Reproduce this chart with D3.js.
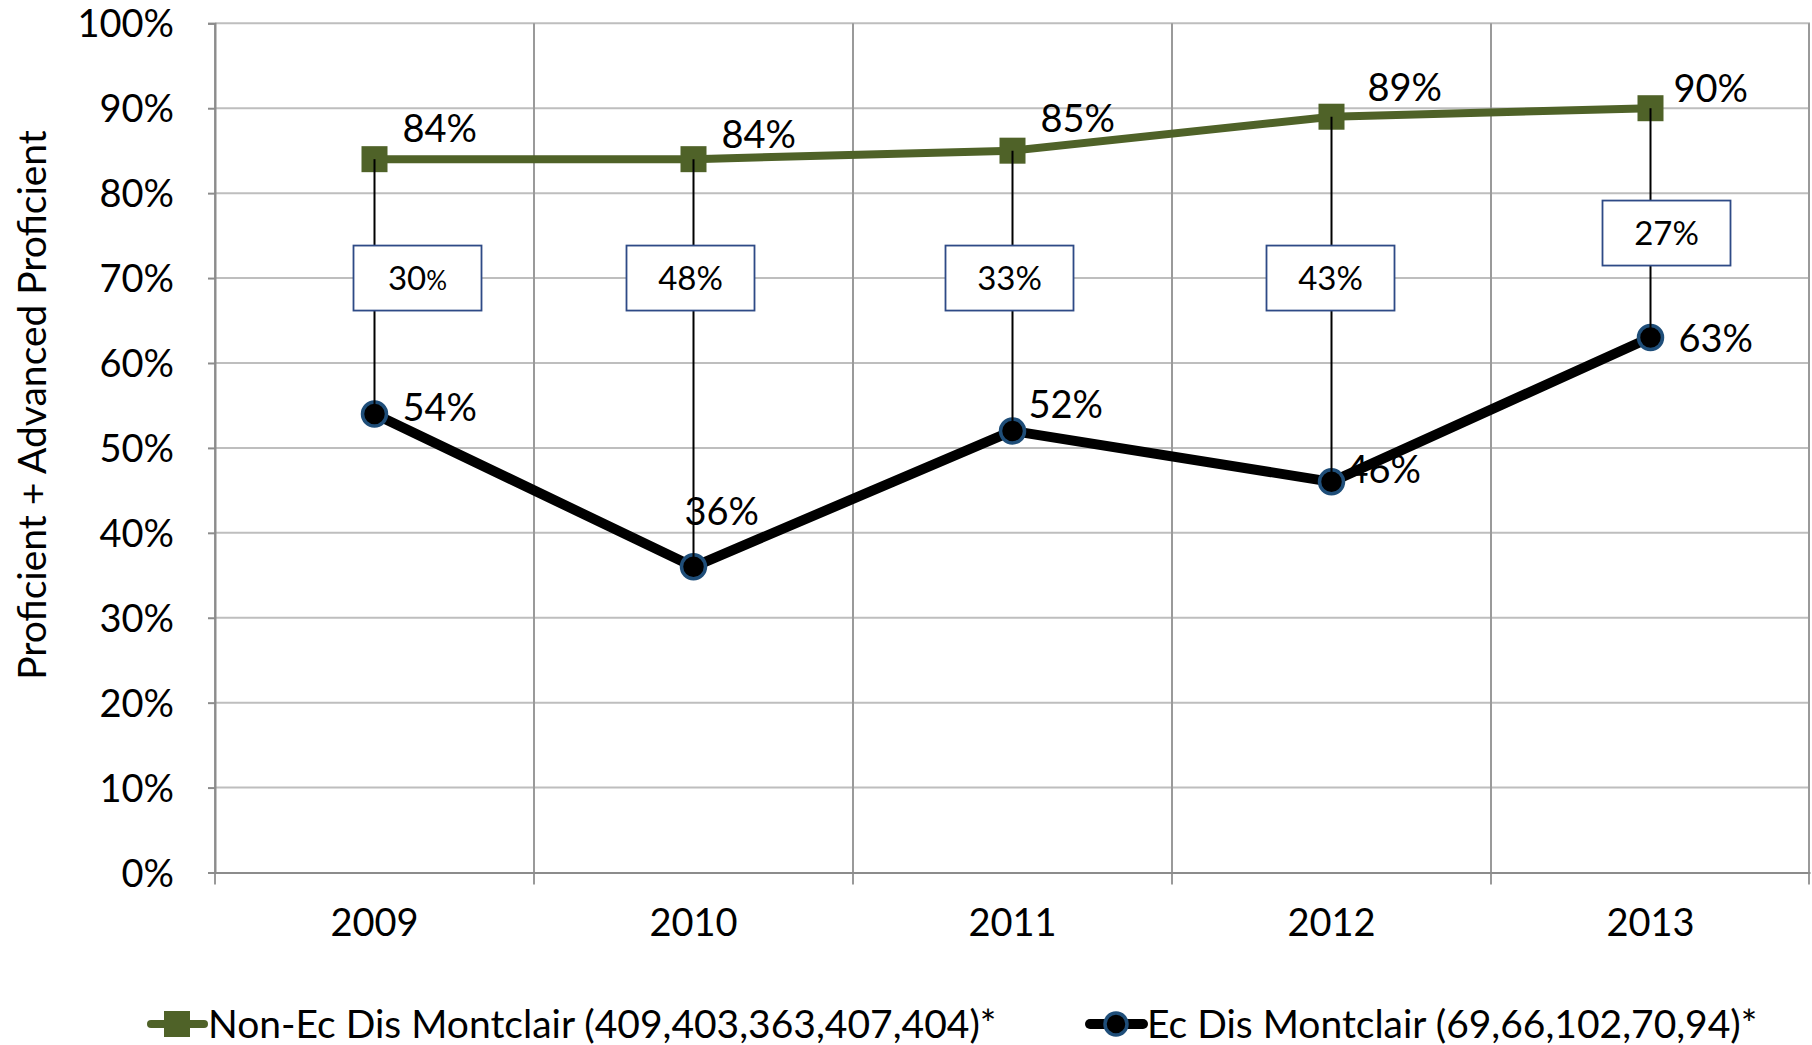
<!DOCTYPE html>
<html>
<head>
<meta charset="utf-8">
<script src="https://cdn.jsdelivr.net/npm/d3@7"></script>
<style>
  body { margin: 0; background: #fff; }
  svg { display: block; }
  text { font-family: Lato, "Open Sans", sans-serif; fill: #000; }
</style>
</head>
<body>
<script>
// ---------- data ----------
const years = ["2009", "2010", "2011", "2012", "2013"];
const nonEcValues = [84, 84, 85, 89, 90];
const ecValues = [54, 36, 52, 46, 63];
const gapValues = [30, 48, 33, 43, 27];
const yTickValues = [0, 10, 20, 30, 40, 50, 60, 70, 80, 90, 100];
const seriesNames = ["Non-Ec Dis Montclair (409,403,363,407,404)*", "Ec Dis Montclair (69,66,102,70,94)*"];
const yAxisTitle = "Proficient + Advanced Proficient";

// ---------- layout (not data) ----------
const W = 1812, H = 1045;
const plot = { left: 215, right: 1810, top: 23.3, bottom: 872.5 };
const nonEcLabelDx = [28, 28, 28, 36, 23];
const nonEcLabelDy = [-31, -25, -32, -29, -20];
const ecLabelDx = [28, -9, 16, 15, 28];
const ecLabelDy = [-7, -55, -27, -13, 1];
const boxCenterValue = [70, 70, 70, 70, 75.3];
const boxDx = [43, -3, -3, -1, 16];
const boxW = 128, boxH = 65;

const green = "#4F6228";
const circleStroke = "#1F4E79";
const boxStroke = "#2E4A86";
const tickSize = 38;
const labelSize = 38;

const svg = d3.select("body").append("svg").attr("width", W).attr("height", H);

const x = d3.scaleBand().domain(years).range([plot.left, plot.right]);
const y = d3.scaleLinear().domain([0, 100]).range([plot.bottom, plot.top]);
const cx = d => x(d) + x.bandwidth() / 2;

// horizontal gridlines
svg.append("g").selectAll("line").data(yTickValues.filter(v => v > 0)).join("line")
  .attr("x1", plot.left).attr("x2", plot.right)
  .attr("y1", d => y(d)).attr("y2", d => y(d))
  .attr("stroke", "#BEBEBE").attr("stroke-width", 2);

// vertical gridlines at band edges
const edges = years.map(d => x(d)).concat([plot.right - 1]);
svg.append("g").selectAll("line").data(edges).join("line")
  .attr("x1", d => d).attr("x2", d => d)
  .attr("y1", plot.top).attr("y2", plot.bottom + 12)
  .attr("stroke", "#9A9A9A").attr("stroke-width", 2);

// y axis
const yAxis = d3.axisLeft(y).tickValues(yTickValues).tickFormat(d => d + "%").tickSize(7).tickPadding(34);
const gy = svg.append("g").attr("transform", `translate(${plot.left},0)`).call(yAxis);
gy.select(".domain").attr("stroke", "#8C8C8C").attr("stroke-width", 2);
gy.selectAll(".tick line").attr("stroke", "#8C8C8C").attr("stroke-width", 2);
gy.selectAll(".tick text").style("font-size", tickSize + "px").attr("dy", "0.36em");

// x axis
const xAxis = d3.axisBottom(x).tickSize(0).tickPadding(37);
const gx = svg.append("g").attr("transform", `translate(0,${plot.bottom})`).call(xAxis);
gx.select(".domain").attr("stroke", "#8C8C8C").attr("stroke-width", 2);
gx.selectAll(".tick text").style("font-size", tickSize + "px");

// y axis title
svg.append("text")
  .attr("transform", `translate(32,405) rotate(-90)`)
  .attr("text-anchor", "middle").attr("dy", "0.36em")
  .style("font-size", "39px").text(yAxisTitle);

// data labels (under lines)
const lbl = svg.append("g").style("font-size", labelSize + "px");
lbl.selectAll("text.ne").data(years).join("text").attr("class", "ne")
  .attr("x", (d, i) => cx(d) + nonEcLabelDx[i])
  .attr("y", (d, i) => y(nonEcValues[i]) + nonEcLabelDy[i])
  .attr("dy", "0.36em")
  .text((d, i) => nonEcValues[i] + "%");
lbl.selectAll("text.ec").data(years).join("text").attr("class", "ec")
  .attr("x", (d, i) => cx(d) + ecLabelDx[i])
  .attr("y", (d, i) => y(ecValues[i]) + ecLabelDy[i])
  .attr("dy", "0.36em")
  .text((d, i) => ecValues[i] + "%");

// lines
const lineGen = d3.line().x(d => cx(d[0])).y(d => y(d[1]));
svg.append("path").datum(years.map((d, i) => [d, nonEcValues[i]]))
  .attr("d", lineGen).attr("fill", "none").attr("stroke", green).attr("stroke-width", 8).attr("stroke-linejoin", "round");
svg.append("path").datum(years.map((d, i) => [d, ecValues[i]]))
  .attr("d", lineGen).attr("fill", "none").attr("stroke", "#000").attr("stroke-width", 10).attr("stroke-linejoin", "round");

// markers
svg.append("g").selectAll("rect").data(years).join("rect")
  .attr("x", (d) => cx(d) - 13).attr("y", (d, i) => y(nonEcValues[i]) - 13)
  .attr("width", 26).attr("height", 26).attr("fill", green);
svg.append("g").selectAll("circle").data(years).join("circle")
  .attr("cx", d => cx(d)).attr("cy", (d, i) => y(ecValues[i]))
  .attr("r", 12).attr("fill", "#000").attr("stroke", circleStroke).attr("stroke-width", 3.5);

// drop lines
svg.append("g").selectAll("line").data(years).join("line")
  .attr("x1", d => cx(d)).attr("x2", d => cx(d))
  .attr("y1", (d, i) => y(nonEcValues[i])).attr("y2", (d, i) => y(ecValues[i]))
  .attr("stroke", "#000").attr("stroke-width", 2);

// gap boxes
const boxes = svg.append("g").selectAll("g").data(years).join("g")
  .attr("transform", (d, i) => `translate(${cx(d) + boxDx[i]},${y(boxCenterValue[i])})`);
boxes.append("rect")
  .attr("x", -boxW / 2).attr("y", -boxH / 2).attr("width", boxW).attr("height", boxH)
  .attr("fill", "#fff").attr("stroke", boxStroke).attr("stroke-width", 1.8);
const bt = boxes.append("text").attr("text-anchor", "middle").attr("dy", "0.36em")
  .style("font-size", "33px");
bt.append("tspan").text((d, i) => gapValues[i]);
bt.append("tspan").style("font-size", (d, i) => i === 0 ? "26px" : "33px").text("%");

// legend
const legend = svg.append("g").attr("transform", `translate(0,1024)`);
const legendItems = [
  { name: seriesNames[0], x0: 147, type: "square" },
  { name: seriesNames[1], x0: 1086, type: "circle" }
];
legendItems.forEach(it => {
  const g = legend.append("g").attr("transform", `translate(${it.x0},0)`);
  if (it.type === "square") {
    g.append("line").attr("x1", 4).attr("x2", 57).attr("stroke", green).attr("stroke-width", 8).attr("stroke-linecap", "round");
    g.append("rect").attr("x", 17).attr("y", -13).attr("width", 26).attr("height", 26).attr("fill", green);
  } else {
    g.append("line").attr("x1", 4).attr("x2", 57).attr("stroke", "#000").attr("stroke-width", 10).attr("stroke-linecap", "round");
    g.append("circle").attr("cx", 30).attr("r", 11).attr("fill", "#000").attr("stroke", circleStroke).attr("stroke-width", 3.5);
  }
  g.append("text").attr("x", 61).attr("dy", "0.36em").style("font-size", "39px").text(it.name);
});
</script>
</body>
</html>
